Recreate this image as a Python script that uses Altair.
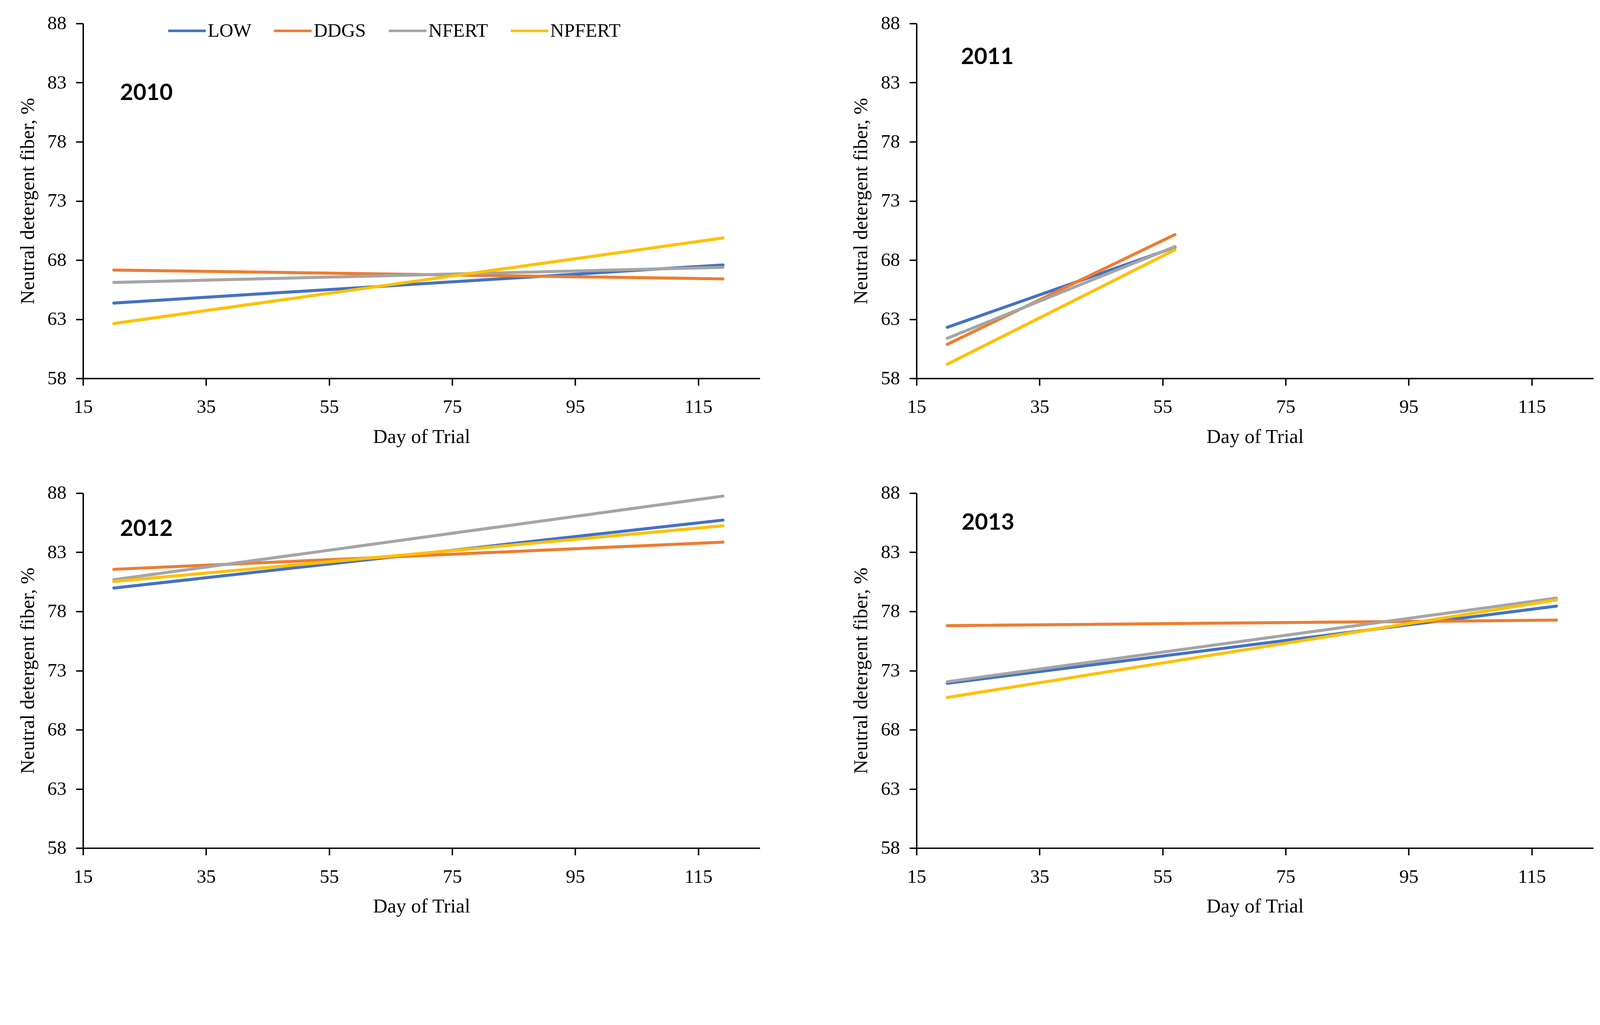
import altair as alt
import pandas as pd

series = ["LOW", "DDGS", "NFERT", "NPFERT"]
colors = ["#4472C4", "#ED7D31", "#A5A5A5", "#FFC000"]
years = ["2010", "2011", "2012", "2013"]

x_ticks = [15, 35, 55, 75, 95, 115]
y_ticks = [58, 63, 68, 73, 78, 83, 88]

# start / end day of each regression line
days_2010 = [20, 119]
days_2011 = [20, 57]
days_2012 = [20, 119]
days_2013 = [20, 119]

# NDF (%) at start / end day, series order LOW, DDGS, NFERT, NPFERT
ndf_2010 = [[64.37, 67.59], [67.16, 66.41], [66.11, 67.39], [62.64, 69.87]]
ndf_2011 = [[62.32, 69.08], [60.88, 70.16], [61.39, 69.14], [59.20, 68.87]]
ndf_2012 = [[79.98, 85.72], [81.56, 83.86], [80.68, 87.75], [80.53, 85.24]]
ndf_2013 = [[71.93, 78.45], [76.80, 77.27], [72.06, 79.13], [70.73, 78.98]]

all_days = {"2010": days_2010, "2011": days_2011, "2012": days_2012, "2013": days_2013}
all_ndf = {"2010": ndf_2010, "2011": ndf_2011, "2012": ndf_2012, "2013": ndf_2013}

rows = []
for yr in years:
    for s, vals in zip(series, all_ndf[yr]):
        for d, v in zip(all_days[yr], vals):
            rows.append({"year": yr, "series": s, "day": d, "ndf": v})
df = pd.DataFrame(rows)

SERIF = "Liberation Serif"
W, H = 1905, 999

label_pos = {"2010": (104, 196), "2011": (125, 95), "2012": (104, 101), "2013": (127, 84)}


def panel(yr, show_legend):
    d = df[df["year"] == yr]
    if show_legend:
        legend = alt.Legend(
            orient="none", legendX=236, legendY=-36, direction="horizontal",
            title=None, symbolType="stroke", symbolSize=11236, symbolStrokeWidth=7,
            labelFont=SERIF, labelFontSize=54, labelColor="black", labelOffset=2,
            columnPadding=49, labelLimit=500,
        )
    else:
        legend = None
    xaxis = alt.Axis(
        values=x_ticks, title="Day of Trial", grid=False,
        domainColor="black", domainWidth=4, tickColor="black", tickWidth=4,
        tickSize=20, labelFont=SERIF, labelFontSize=54, labelColor="black",
        labelPadding=34, labelFlush=False, titleFont=SERIF, titleFontSize=56,
        titleFontWeight="normal", titleColor="black", titlePadding=29,
    )
    yaxis = alt.Axis(
        values=y_ticks, title="Neutral detergent fiber, %", grid=False,
        domainColor="black", domainWidth=4, tickColor="black", tickWidth=4,
        tickSize=20, labelFont=SERIF, labelFontSize=54, labelColor="black",
        labelPadding=27, labelFlush=False, titleFont=SERIF, titleFontSize=56,
        titleFontWeight="normal", titleColor="black", titlePadding=26,
    )
    lines = alt.Chart(d).mark_line(strokeWidth=8.5, strokeCap="round").encode(
        x=alt.X("day:Q", scale=alt.Scale(domain=[15, 125], nice=False, zero=False), axis=xaxis),
        y=alt.Y("ndf:Q", scale=alt.Scale(domain=[58, 88], nice=False, zero=False), axis=yaxis),
        color=alt.Color("series:N", scale=alt.Scale(domain=series, range=colors), legend=legend),
    )
    px, py = label_pos[yr]
    txt = alt.Chart(pd.DataFrame({"label": [yr]})).mark_text(
        font="Lato", fontSize=64, fontWeight="bold", align="left", baseline="middle", color="black"
    ).encode(x=alt.value(px), y=alt.value(py), text="label:N")
    return alt.layer(lines, txt).properties(width=W, height=H)


chart = alt.concat(
    panel("2010", True), panel("2011", False), panel("2012", False), panel("2013", False),
    columns=2, spacing={"row": 104, "column": 257},
).resolve_legend(color="independent").properties(
    padding={"left": 41, "top": -101, "right": 10, "bottom": 10}
).configure_view(stroke=None)

chart.save("out.html", embed_options={"renderer": "svg", "actions": False})
